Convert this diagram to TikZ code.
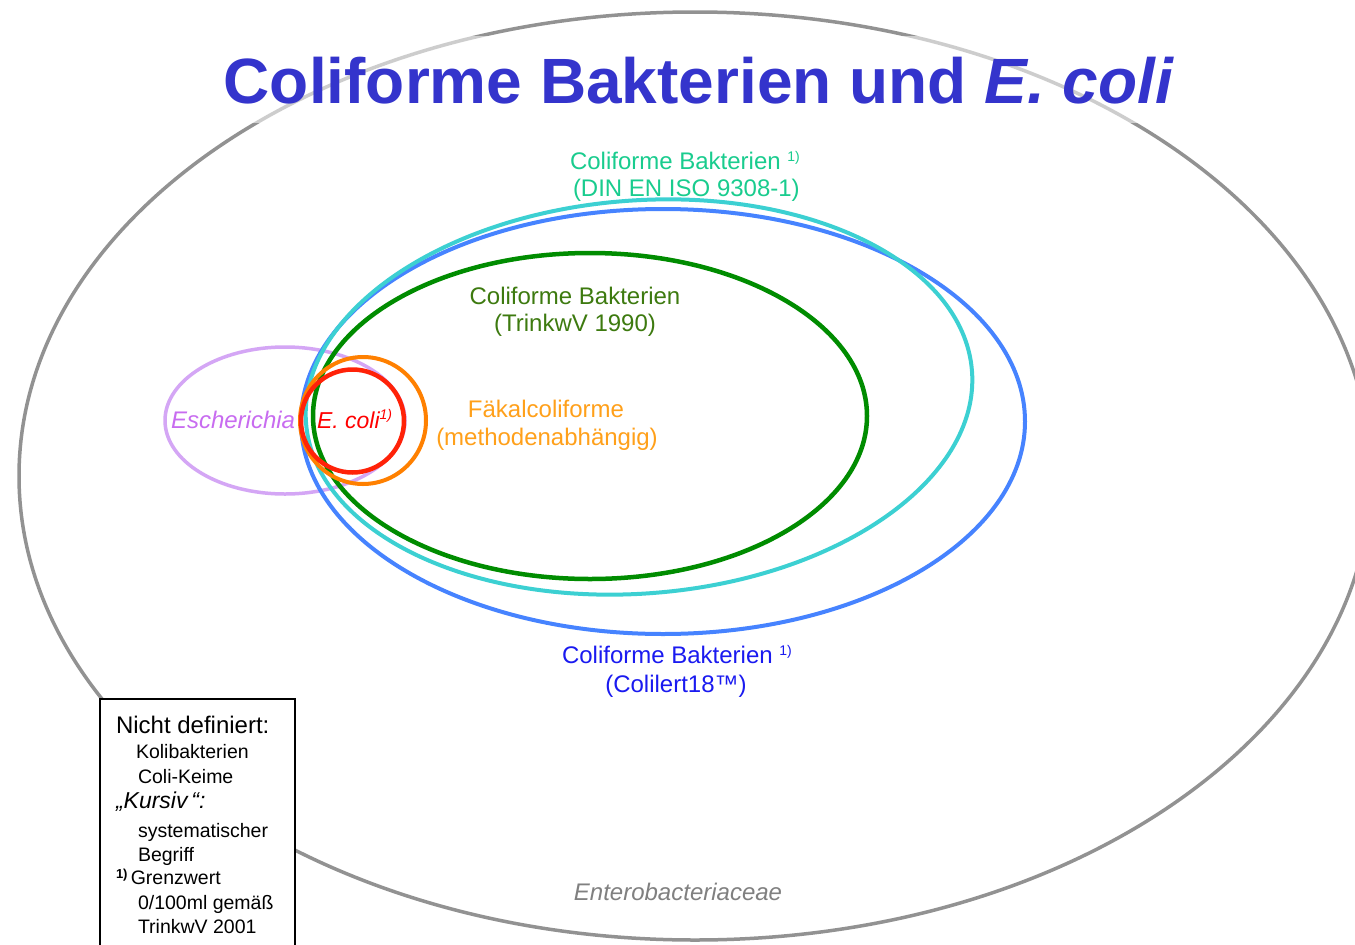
\documentclass[tikz,border=0pt]{standalone}
\usepackage{fontspec}
\setmainfont{Liberation Sans}
\definecolor{graye}{HTML}{929292}
\definecolor{violete}{HTML}{D4A6F5}
\definecolor{bluee}{HTML}{4683FF}
\definecolor{cyane}{HTML}{3CD0D2}
\definecolor{greene}{HTML}{008C00}
\definecolor{orangee}{HTML}{FF8000}
\definecolor{rede}{HTML}{FF2208}
\definecolor{titleblue}{HTML}{3434CC}
\definecolor{tealtxt}{HTML}{19CC8E}
\definecolor{greentxt}{HTML}{3D7A0F}
\definecolor{orangetxt}{HTML}{FFA01A}
\definecolor{violettxt}{HTML}{C86CF0}
\definecolor{redtxt}{HTML}{FF0000}
\definecolor{bluetxt}{HTML}{1A1AF0}
\definecolor{graytxt}{HTML}{808080}
\newcommand\supx[2][8pt]{\raisebox{#1}{\fontsize{14}{14}\selectfont #2}}
\begin{document}
\begin{tikzpicture}[x=1pt,y=-1pt,
  lbl/.style={inner sep=0pt, outer sep=0pt, font=\fontsize{24}{24}\selectfont},
  boxtxt/.style={inner sep=0pt, outer sep=0pt, anchor=base west, font=\fontsize{19.5}{19.5}\selectfont},
  ring/.style={line width=4pt}]
\clip (0,0) rectangle (1355,945);
\fill[white] (0,0) rectangle (1355,945);
% Enterobacteriaceae
\draw[graye, line width=3.5pt] (695,476) ellipse [x radius=676, y radius=464];
\fill[white, opacity=0.55] (215,36) rectangle (1185,123);
% Escherichia
\draw[violete, line width=3.5pt] (285,420.5) ellipse [x radius=120, y radius=73.5];
% Colilert
\draw[bluee, ring] (663,421.5) ellipse [x radius=362, y radius=212.5];
% DIN EN ISO
\draw[cyane, ring, rotate around={4.5:(639,397)}] (639,397) ellipse [x radius=334, y radius=196.5];
% TrinkwV 1990
\draw[greene, line width=4.5pt] (590,416) ellipse [x radius=277, y radius=163];
% Faekalcoliforme
\draw[orangee, ring] (363,420.5) ellipse [x radius=63, y radius=63.5];
% E. coli
\draw[rede, line width=4.5pt] (352.5,421) circle [radius=51.5];

% title
\node[inner sep=0pt, anchor=base, text=titleblue, font=\fontsize{64}{64}\selectfont\bfseries] (title) at (699,103) {Coliforme Bakterien und \textit{E. coli}};

% labels
\node[lbl, anchor=base west, text=tealtxt] (din1) at (570,169) {Coliforme Bakterien \supx{1)}};
\node[lbl, anchor=base west, text=tealtxt] (din2) at (573,196) {(DIN EN ISO 9308-1)};
\node[lbl, anchor=base, text=greentxt] (tw1) at (575,304) {Coliforme Bakterien};
\node[lbl, anchor=base, text=greentxt] (tw2) at (575,331) {(TrinkwV 1990)};
\node[lbl, anchor=base, text=orangetxt] (fk1) at (546,417) {Fäkalcoliforme};
\node[lbl, anchor=base, text=orangetxt] (fk2) at (547,445) {(methodenabhängig)};
\node[lbl, anchor=base west, text=violettxt, font=\fontsize{24}{24}\selectfont\itshape] (esch) at (171,428) {Escherichia};
\node[lbl, anchor=base west, text=redtxt, font=\fontsize{23}{23}\selectfont\itshape] (ecoli) at (317,428) {E. coli\supx[9pt]{1)}};
\node[lbl, anchor=base west, text=bluetxt] (cl1) at (562,663) {Coliforme Bakterien \supx{1)}};
\node[lbl, anchor=base, text=bluetxt] (cl2) at (676,692) {(Colilert18™)};
\node[lbl, anchor=base, text=graytxt, font=\fontsize{24}{24}\selectfont\itshape] (entero) at (678,900) {Enterobacteriaceae};

% legend box
\node[draw=black, line width=1.5pt, fill=white, anchor=north west, minimum width=195pt, minimum height=270pt, inner sep=0pt] (box) at (99,698) {};
\node[boxtxt, font=\fontsize{24}{24}\selectfont] (b1) at (116,733) {Nicht definiert:};
\node[boxtxt] (b2) at (136,758) {Kolibakterien};
\node[boxtxt] (b3) at (138,783) {Coli-Keime};
\node[boxtxt, font=\fontsize{23}{23}\selectfont\itshape] (b4) at (116,808) {„Kursiv\,“:};
\node[boxtxt] (b5) at (138,837) {systematischer};
\node[boxtxt] (b6) at (138,861) {Begriff};
\node[boxtxt] (b7) at (116,884) {\raisebox{6pt}{\fontsize{13}{13}\selectfont\bfseries 1)}\,Grenzwert};
\node[boxtxt] (b8) at (138,909) {0/100ml gemäß};
\node[boxtxt] (b9) at (138,933) {TrinkwV 2001};
\end{tikzpicture}
\end{document}
